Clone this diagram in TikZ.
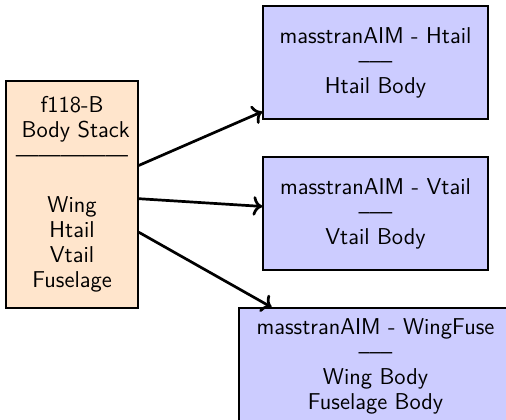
\documentclass[tikz,border=0pt]{standalone}
\usetikzlibrary{arrows.meta}
\definecolor{stackfill}{HTML}{FFE5CC}
\definecolor{aimfill}{HTML}{CCCCFF}
\begin{document}
\begin{tikzpicture}[x=0.48pt, y=-0.48pt,
  box/.style={draw=black, line width=0.7pt, rectangle, inner sep=0pt,
    align=center, font=\sffamily\fontsize{11}{12}\selectfont},
  stackbox/.style={box, fill=stackfill, minimum width=132*0.48pt, minimum height=227*0.48pt},
  aimbox/.style={box, fill=aimfill, minimum width=225*0.48pt, minimum height=113*0.48pt},
  link/.style={->, line width=1.3pt}]
  \useasboundingbox (0,0) rectangle (506,419);
  \clip (0,0) rectangle (506,419);

  % body stack on the left
  \node[stackbox] (stack) at (72,194.5)
    {f118-B\\ ~Body Stack\\ ---------------\\ \\ Wing\\ Htail\\ Vtail\\ Fuselage};

  % masstran analyses on the right
  \node[aimbox] (htail) at (375.5,62.5)
    {masstranAIM - Htail\\ --{}--{}--\\ Htail Body};
  \node[aimbox] (vtail) at (375.5,213.5)
    {masstranAIM - Vtail\\ --{}--{}--\\ Vtail Body};
  \node[aimbox, minimum width=273*0.48pt, minimum height=116*0.48pt] (wingfuse) at (375.5,366)
    {masstranAIM - WingFuse\\ --{}--{}--\\ Wing Body\\ Fuselage Body};

  \draw[link] (stack) -- (htail);
  \draw[link] (stack) -- (vtail);
  \draw[link] (stack) -- (wingfuse);
\end{tikzpicture}
\end{document}
